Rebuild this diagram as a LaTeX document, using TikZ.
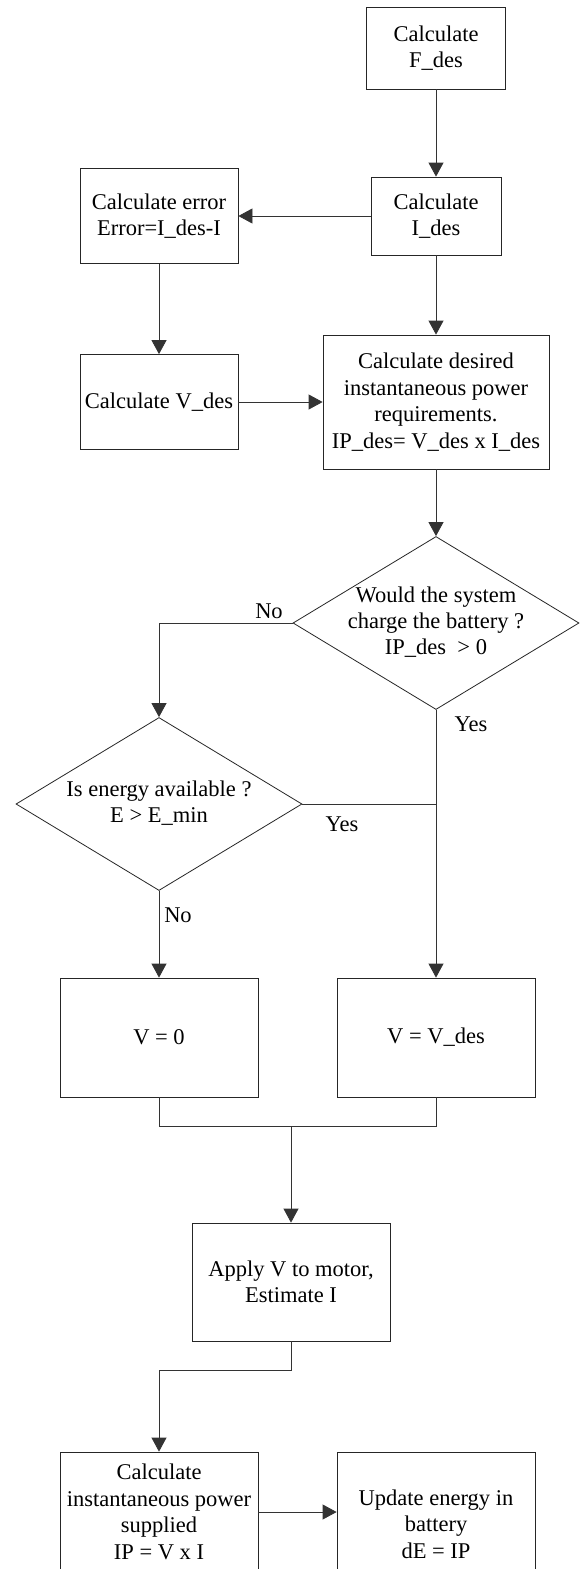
\documentclass[tikz,border=0pt]{standalone}
\usepackage{fontspec}
\setmainfont{Liberation Serif}
\usetikzlibrary{arrows.meta,shapes.geometric}
\begin{document}
\begin{tikzpicture}[x=1pt,y=-1pt,
  every node/.style={font=\fontsize{22.5pt}{26.5pt}\selectfont},
  stepbox/.style={draw=black!85, line width=0.8pt, rectangle, align=center, inner sep=0pt},
  decision/.style={draw=black!85, line width=0.8pt, diamond, inner sep=0pt, minimum width=286pt, minimum height=173pt, aspect=1.65},
  conn/.style={draw=black!80, line width=0.8pt},
  arr/.style={conn, -{Triangle[length=14pt,width=15pt]}},
  lbl/.style={inner sep=0pt}
]
\clip (0,0) rectangle (580,1569);
\fill[white] (0,0) rectangle (580,1569);

\node[stepbox, minimum width=139pt, minimum height=82pt] (fdes) at (436,48) {Calculate\\F\_des};
\node[stepbox, minimum width=130pt, minimum height=78pt] (ides) at (436,216) {Calculate\\I\_des};
\node[stepbox, minimum width=158pt, minimum height=95pt] (err) at (159,216) {Calculate error\\Error=I\_des-I};
\node[stepbox, minimum width=158pt, minimum height=95pt] (vdes) at (159,402) {Calculate V\_des};
\node[stepbox, minimum width=226pt, minimum height=134pt] (ipdes) at (436,402) {Calculate desired\\instantaneous power\\requirements.\\IP\_des= V\_des x I\_des};

\node[decision, label={[lbl]center:{\begin{tabular}{@{}c@{}}Would the system\\[-0.5pt]charge the battery ?\\[-0.5pt]IP\_des \ > 0\end{tabular}}}] (d1) at (436,623) {};
\node[decision, label={[lbl]center:{\begin{tabular}{@{}c@{}}Is energy available ?\\[-0.5pt]E > E\_min\end{tabular}}}] (d2) at (159,804) {};

\node[stepbox, minimum width=198pt, minimum height=119pt] (v0) at (159,1037.5) {V = 0};
\node[stepbox, minimum width=198pt, minimum height=119pt] (vd) at (436,1037.5) {V = V\_des};
\node[stepbox, minimum width=198pt, minimum height=118pt] (apply) at (291,1282) {Apply V to motor,\\Estimate I};
\node[stepbox, minimum width=198pt, minimum height=120pt] (calcip) at (159,1512) {Calculate\\instantaneous power\\supplied\\IP = V x I};
\node[stepbox, minimum width=198pt, minimum height=144pt] (upd) at (436,1524) {Update energy in\\battery\\dE = IP};

\coordinate (merge) at (291,1126);

\draw[arr] (fdes.south) -- (ides.north);
\draw[arr] (ides.west) -- (err.east);
\draw[arr] (err.south) -- (vdes.north);
\draw[arr] (vdes.east) -- (ipdes.west);
\draw[arr] (ides.south) -- (ipdes.north);
\draw[arr] (ipdes.south) -- (d1.north);
\draw[arr] (d1.west) -| (d2.north);
\draw[arr] (d1.south) -- (vd.north);
\draw[conn] (d2.east) -- (d2.east -| vd.north);
\draw[arr] (d2.south) -- (v0.north);
\draw[conn] (v0.south) |- (merge) -| (vd.south);
\draw[arr] (merge) -- (apply.north);
\draw[arr] (apply.south) -- ++(0,29) -| (calcip.north);
\draw[arr] (calcip.east) -- (calcip.east -| upd.west);

\node[lbl] (no1) at (269,611) {No};
\node[lbl] (yes1) at (471,724) {Yes};
\node[lbl] (yes2) at (342,824) {Yes};
\node[lbl] (no2) at (178,915) {No};
\end{tikzpicture}
\end{document}
